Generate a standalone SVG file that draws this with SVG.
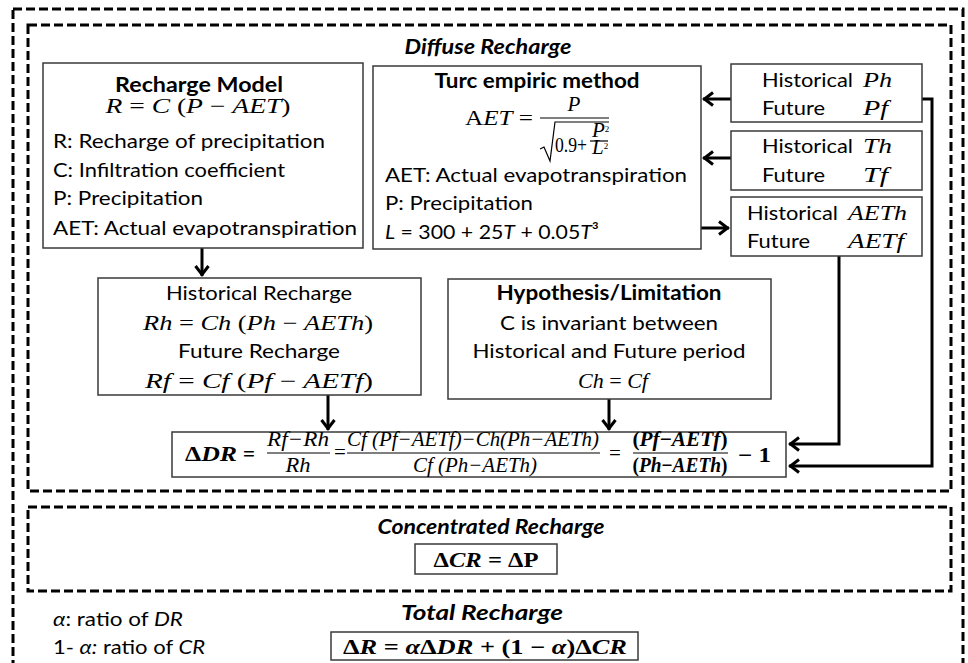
<svg xmlns="http://www.w3.org/2000/svg" width="968" height="663" viewBox="0 0 968 663">
<defs>
<style>
.box{fill:#fff;stroke:#3a3a3a;stroke-width:1.5}
.dash{fill:none;stroke:#000;stroke-width:3;stroke-dasharray:9 4}
.conn{fill:none;stroke:#000;stroke-width:3}
.bar{stroke:#000;stroke-width:1.2}
.t{font-family:Lato,"Liberation Sans",sans-serif;font-size:20px;fill:#000}
.b{font-weight:bold}
.bi{font-weight:bold;font-style:italic}
.m{font-family:"Liberation Serif","DejaVu Serif",serif;font-size:21px;fill:#000}
.i{font-style:italic}
.c{text-anchor:middle}
</style>
<marker id="arr" viewBox="-12 -8 14 16" refX="0" refY="0" markerWidth="14" markerHeight="16" orient="auto" markerUnits="userSpaceOnUse">
<path d="M-10,-6.5 L-1.5,0 L-10,6.5" fill="none" stroke="#000" stroke-width="3"/>
</marker>
</defs>
<rect width="968" height="663" fill="#fff"/>

<g id="outer">
<rect class="dash" x="13" y="9" width="950" height="680"/>
</g>
<g id="diffuse">
<rect class="dash" x="28" y="25" width="923" height="466"/>
<text class="t bi c" x="488" y="54" textLength="167" lengthAdjust="spacingAndGlyphs">Diffuse Recharge</text>
</g>

<g id="connectors">
<path class="conn" d="M202,248 V276" marker-end="url(#arr)"/>
<path class="conn" d="M731,99 H703" marker-end="url(#arr)"/>
<path class="conn" d="M731,158 H703" marker-end="url(#arr)"/>
<path class="conn" d="M701,228 H729" marker-end="url(#arr)"/>
<path class="conn" d="M922,99 H932 V466 H789" marker-end="url(#arr)"/>
<path class="conn" d="M839,256 V444 H789" marker-end="url(#arr)"/>
<path class="conn" d="M328,395 V430" marker-end="url(#arr)"/>
<path class="conn" d="M609,399 V430" marker-end="url(#arr)"/>
</g>

<g id="recharge-model">
<rect class="box" x="43" y="63" width="320" height="185"/>
<text class="t b c" x="199" y="92" textLength="168" lengthAdjust="spacingAndGlyphs">Recharge Model</text>
<text class="m c" x="198" y="113" font-size="22" textLength="185" lengthAdjust="spacingAndGlyphs"><tspan class="i">R</tspan> = <tspan class="i">C</tspan> (<tspan class="i">P</tspan> − <tspan class="i">AET</tspan>)</text>
<text class="t" x="53" y="148" textLength="272" lengthAdjust="spacingAndGlyphs">R: Recharge of precipitation</text>
<text class="t" x="53" y="177" textLength="232" lengthAdjust="spacingAndGlyphs">C: Infiltration coefficient</text>
<text class="t" x="53" y="205" textLength="150" lengthAdjust="spacingAndGlyphs">P: Precipitation</text>
<text class="t" x="53" y="235" textLength="304" lengthAdjust="spacingAndGlyphs">AET: Actual evapotranspiration</text>
</g>

<g id="turc">
<rect class="box" x="373" y="66" width="328" height="183"/>
<text class="t b c" x="537" y="88" textLength="205" lengthAdjust="spacingAndGlyphs">Turc empiric method</text>
<text class="m" x="465" y="125" font-size="22" textLength="68" lengthAdjust="spacingAndGlyphs">A<tspan class="i">ET</tspan> =</text>
<text class="m i c" x="574" y="111" font-size="16">P</text>
<line class="bar" x1="540" y1="118" x2="609" y2="118"/>
<path d="M540,149 L544,147 L550,161 L555,122 H609" fill="none" stroke="#000" stroke-width="1.2"/>
<text class="m" x="555" y="152" font-size="15" textLength="32" lengthAdjust="spacingAndGlyphs">0.9+</text>
<text class="m" x="592" y="137" font-size="12"><tspan class="i">P</tspan><tspan font-size="9" dy="-5">2</tspan></text>
<line class="bar" x1="590" y1="141" x2="608" y2="141" stroke-width="1"/>
<text class="m" x="592" y="154" font-size="12"><tspan class="i">L</tspan><tspan font-size="9" dy="-5">2</tspan></text>
<text class="t" x="385" y="182" textLength="302" lengthAdjust="spacingAndGlyphs">AET: Actual evapotranspiration</text>
<text class="t" x="385" y="210" textLength="148" lengthAdjust="spacingAndGlyphs">P: Precipitation</text>
<text class="t" x="385" y="239" textLength="214" lengthAdjust="spacingAndGlyphs"><tspan font-style="italic">L</tspan> = 300 + 25<tspan font-style="italic">T</tspan> + 0.05<tspan font-style="italic">T</tspan>³</text>
</g>

<g id="precip">
<rect class="box" x="731" y="64" width="191" height="58"/>
<text class="t" x="762" y="87" textLength="91" lengthAdjust="spacingAndGlyphs">Historical</text>
<text class="m i" x="863" y="87" font-size="23" textLength="29" lengthAdjust="spacingAndGlyphs">Ph</text>
<text class="t" x="762" y="115" textLength="63" lengthAdjust="spacingAndGlyphs">Future</text>
<text class="m i" x="863" y="115" font-size="23" textLength="25" lengthAdjust="spacingAndGlyphs">Pf</text>
</g>

<g id="temp">
<rect class="box" x="731" y="131" width="191" height="59"/>
<text class="t" x="762" y="153" textLength="91" lengthAdjust="spacingAndGlyphs">Historical</text>
<text class="m i" x="863" y="153" font-size="23" textLength="29" lengthAdjust="spacingAndGlyphs">Th</text>
<text class="t" x="762" y="182" textLength="63" lengthAdjust="spacingAndGlyphs">Future</text>
<text class="m i" x="863" y="182" font-size="23" textLength="25" lengthAdjust="spacingAndGlyphs">Tf</text>
</g>

<g id="aet">
<rect class="box" x="731" y="197" width="191" height="59"/>
<text class="t" x="747" y="220" textLength="91" lengthAdjust="spacingAndGlyphs">Historical</text>
<text class="m i" x="848" y="220" font-size="23" textLength="59" lengthAdjust="spacingAndGlyphs">AETh</text>
<text class="t" x="747" y="248" textLength="63" lengthAdjust="spacingAndGlyphs">Future</text>
<text class="m i" x="848" y="248" font-size="23" textLength="56" lengthAdjust="spacingAndGlyphs">AETf</text>
</g>

<g id="hist-future">
<rect class="box" x="98" y="278" width="323" height="117"/>
<text class="t c" x="259" y="300" textLength="186" lengthAdjust="spacingAndGlyphs">Historical Recharge</text>
<text class="m c" x="258" y="330" textLength="230" lengthAdjust="spacingAndGlyphs"><tspan class="i">Rh</tspan> = <tspan class="i">Ch</tspan> (<tspan class="i">Ph</tspan> − <tspan class="i">AETh</tspan>)</text>
<text class="t c" x="259" y="358" textLength="162" lengthAdjust="spacingAndGlyphs">Future Recharge</text>
<text class="m c" x="259" y="388" textLength="228" lengthAdjust="spacingAndGlyphs"><tspan class="i">Rf</tspan> = <tspan class="i">Cf</tspan> (<tspan class="i">Pf</tspan> − <tspan class="i">AETf</tspan>)</text>
</g>

<g id="hypothesis">
<rect class="box" x="448" y="279" width="323" height="120"/>
<text class="t b c" x="609" y="300" textLength="225" lengthAdjust="spacingAndGlyphs">Hypothesis/Limitation</text>
<text class="t c" x="609" y="330" textLength="218" lengthAdjust="spacingAndGlyphs">C is invariant between</text>
<text class="t c" x="609" y="358" textLength="273" lengthAdjust="spacingAndGlyphs">Historical and Future period</text>
<text class="m c" x="613" y="388" font-size="22" textLength="70" lengthAdjust="spacingAndGlyphs"><tspan class="i">Ch</tspan> = <tspan class="i">Cf</tspan></text>
</g>

<g id="delta-dr">
<rect class="box" x="172" y="432" width="614" height="45"/>
<text class="m" x="185" y="461" font-size="23" font-weight="bold" textLength="52" lengthAdjust="spacingAndGlyphs">Δ<tspan class="i">DR</tspan></text>
<text class="m" x="243" y="461" font-size="23" font-weight="bold">=</text>
<text class="m i c" x="298" y="446" font-size="15" textLength="62" lengthAdjust="spacingAndGlyphs">Rf−Rh</text>
<line class="bar" x1="267" y1="453" x2="330" y2="453"/>
<text class="m i c" x="298" y="472" font-size="15" textLength="25" lengthAdjust="spacingAndGlyphs">Rh</text>
<text class="m" x="334" y="459" font-size="16">=</text>
<text class="m i c" x="473" y="446" font-size="15" textLength="252" lengthAdjust="spacingAndGlyphs">Cf  (Pf−AETf)−Ch(Ph−AETh)</text>
<line class="bar" x1="347" y1="453" x2="600" y2="453"/>
<text class="m i c" x="475" y="472" font-size="15" textLength="124" lengthAdjust="spacingAndGlyphs">Cf  (Ph−AETh)</text>
<text class="m" x="609" y="460" font-size="22">=</text>
<text class="m c" x="680" y="446" font-size="15" font-weight="bold" textLength="95" lengthAdjust="spacingAndGlyphs">(<tspan class="i">Pf</tspan>−<tspan class="i">AETf</tspan>)</text>
<line class="bar" x1="633" y1="453" x2="728" y2="453"/>
<text class="m c" x="680" y="472" font-size="15" font-weight="bold" textLength="95" lengthAdjust="spacingAndGlyphs">(<tspan class="i">Ph</tspan>−<tspan class="i">AETh</tspan>)</text>
<text class="m" x="738" y="462" font-size="22" font-weight="bold" textLength="33" lengthAdjust="spacingAndGlyphs">− 1</text>
</g>

<g id="concentrated">
<rect class="dash" x="28" y="507" width="923" height="84"/>
<text class="t bi c" x="491" y="534" textLength="227" lengthAdjust="spacingAndGlyphs">Concentrated Recharge</text>
<rect class="box" x="415" y="544" width="142" height="30"/>
<text class="m c" x="486" y="567" font-size="24" font-weight="bold" textLength="105" lengthAdjust="spacingAndGlyphs">Δ<tspan class="i">CR</tspan> = ΔP</text>
</g>

<g id="total">
<text class="t bi c" x="482" y="620" textLength="162" lengthAdjust="spacingAndGlyphs">Total Recharge</text>
<rect class="box" x="331" y="632" width="307" height="28"/>
<text class="m c" x="485" y="654" font-size="24" font-weight="bold" textLength="284" lengthAdjust="spacingAndGlyphs">Δ<tspan class="i">R</tspan> = <tspan class="i">α</tspan>Δ<tspan class="i">DR</tspan> + (1 − <tspan class="i">α</tspan>)Δ<tspan class="i">CR</tspan></text>
</g>

<g id="legend">
<text class="t" x="53" y="626" textLength="130" lengthAdjust="spacingAndGlyphs"><tspan font-style="italic">α</tspan>: ratio of <tspan font-style="italic">DR</tspan></text>
<text class="t" x="53" y="654" textLength="152" lengthAdjust="spacingAndGlyphs">1- <tspan font-style="italic">α:</tspan> ratio of <tspan font-style="italic">CR</tspan></text>
</g>
</svg>
